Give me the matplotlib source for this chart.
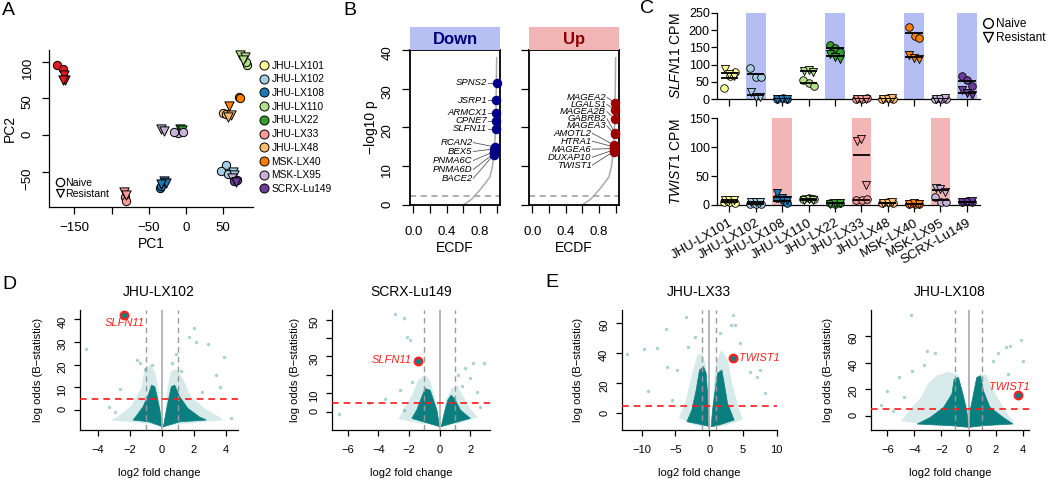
import numpy as np
import matplotlib
matplotlib.use('Agg')
import matplotlib.pyplot as plt
from matplotlib.lines import Line2D

plt.rcParams['font.family'] = ['Liberation Sans', 'DejaVu Sans']
plt.rcParams['mathtext.fontset'] = 'custom'
plt.rcParams['mathtext.it'] = 'Liberation Sans:italic'
plt.rcParams['mathtext.rm'] = 'Liberation Sans'

# ---------------- data ----------------
lines = ['JHU-LX101', 'JHU-LX102', 'JHU-LX108', 'JHU-LX110', 'JHU-LX22',
         'JHU-LX33', 'JHU-LX48', 'MSK-LX40', 'MSK-LX95', 'SCRX-Lu149']
line_colors = ['#FFFF99', '#A6CEE3', '#1F78B4', '#B2DF8A', '#33A02C',
               '#FB9A99', '#FDBF6F', '#FF7F00', '#CAB2D6', '#6A3D9A']

# panel A (PCA); last entry is the red cluster with no legend entry
pca_colors = line_colors + ['#E31A1C']
pc1_naive = [[], [54, 47, 56], [-35, -34], [82.4, 81], [-7], [-82, -80],
             [49.5, 54], [71, 72], [-11, -4.6, -16], [65, 68.6], [-172.6, -165.8]]
pc2_naive = [[], [-41, -49, -53.5], [-72, -70], [96, 100], [6], [-85, -90],
             [29.7, 29], [51.6, 50], [3, 4.6, 4], [-62, -61], [95.9, 90]]
pc1_resist = [[], [63, 64.5], [-30, -27, -33], [72, 78.7, 76.5], [-8, -5], [-83, -80],
              [60.8, 56], [57.6], [-33, -30, 62], [67.5], [-164.5, -162, -165.5]]
pc2_resist = [[], [-50, -55], [-63, -65, -66], [109.6, 107, 102], [8, 7], [-78, -82],
              [27.4, 24], [39.7], [8, 5, -58], [-64], [82, 75, 75]]

# panel B (ECDF of -log10 p)
ecdf_curve_x = [0.6, 0.7, 0.8, 0.87, 0.92, 0.95, 0.97, 0.98, 0.99, 0.995, 1.0]
ecdf_curve_y = [0, 1.5, 3.9, 5.8, 7.3, 10, 13.5, 17, 22, 30, 38]
down_genes = ['SPNS2', 'JSRP1', 'ARMCX1', 'CPNE7', 'SLFN11',
              'RCAN2', 'BEX5', 'PNMA6C', 'PNMA6D', 'BACE2']
down_ecdf = [0.998, 0.997, 0.996, 0.995, 0.994, 0.975, 0.972, 0.970, 0.968, 0.966]
down_logp = [31.5, 27, 23.8, 21.8, 19.7, 15, 14.5, 13.8, 13.3, 13]
up_genes = ['MAGEA2', 'LGALS1', 'MAGEA2B', 'GABRB2', 'MAGEA3',
            'AMOTL2', 'HTRA1', 'MAGEA6', 'DUXAP10', 'TWIST1']
up_ecdf = [0.995, 0.994, 0.993, 0.99, 0.99, 0.98, 0.978, 0.976, 0.975, 0.974]
up_logp = [26.3, 24.5, 22.2, 18.7, 18.2, 15.5, 15.0, 14.6, 14.2, 13.8]
sig_cut = 2.2

# panel C (CPM per line, naive / resistant replicates)
slfn11_naive = [[33, 68, 80], [89, 65, 63], [2, 3, 1], [55, 48, 38], [158, 148, 137],
                [2, 1, 3], [2, 3, 1], [209, 184, 178], [1, 2, 2], [67, 55, 38]]
slfn11_resist = [[88, 72, 66], [22, 8, 7], [1, 2, 2], [82, 84, 78], [132, 122, 117],
                 [1, 2, 1], [2, 1, 3], [128, 119, 116], [2, 1, 3], [28, 17, 13]]
twist1_naive = [[5, 6, 4], [1, 2, 1], [12, 8, 3], [11, 12, 10], [3, 2, 4],
                [9, 8, 10], [4, 5, 3], [2, 1, 2], [13, 6, 5], [6, 7, 5]]
twist1_resist = [[9, 8, 9], [5, 6, 5], [20, 12, 8], [8, 10, 9], [2, 3, 4],
                 [111, 114, 35], [4, 3, 5], [2, 3, 1], [30, 27, 22], [6, 5, 7]]
slfn11_marked = ['JHU-LX102', 'JHU-LX22', 'MSK-LX40', 'SCRX-Lu149']
twist1_marked = ['JHU-LX108', 'JHU-LX33', 'MSK-LX95']

# panels D/E (volcano): dense core outlines, lighter fringe outlines, sparse genes
lx102_core_l = [(0.02, -7.4), (-0.14, 0), (-0.31, 5.9), (-0.46, 10.3), (-0.66, 11), (-0.87, 6.6),
                (-1.19, 1.5), (-1.61, -2.6), (-1.82, -4.4), (-0.81, -5.2)]
lx102_core_r = [(0.08, -7.4), (0.27, 0), (0.44, 5.9), (0.58, 10.3), (0.79, 11), (1.1, 5.9),
                (1.62, 0.7), (2.35, -3.1), (2.77, -4.4), (1.1, -5.2)]
lx102_fringe_l = [(0, -7), (-0.25, 10), (-0.45, 17), (-0.75, 20), (-1.1, 18), (-1.3, 10),
                  (-1.9, 2), (-2.8, -3), (-3.2, -4.5), (-1, -6)]
lx102_fringe_r = [(0.1, -7), (0.35, 10), (0.55, 17), (0.9, 18), (1.3, 14), (1.8, 6),
                  (2.8, 0), (3.6, -3), (3.8, -4.5), (1.5, -6)]
lx102_sparse_x = [-4.77, -2.64, -2.95, -1.6, -1.4, -0.66, 0.59, 0.9, 1.67, 1.98,
                  2.15, 2.88, 3.86, 3.4, 3.6, 4.34, -3.3, 2.5, 1.2, -1.1]
lx102_sparse_y = [26.8, 9.3, -0.7, 22, 20.6, 19.9, 20.6, 24.7, 32.3, 36,
                  30.1, 29.1, 23.5, 15.4, 10.3, -3.7, 1.5, 8, 17, 18]
lx102_gene = ('SLFN11', -2.4, 42)

lu149_core_l = [(0.0, -8.1), (-0.17, 0.9), (-0.39, 6.3), (-0.61, 11.7), (-0.94, 12.6),
                (-1.16, 8.1), (-1.49, 0.9), (-1.81, -3.6), (-0.83, -6.0)]
lu149_core_r = [(0.11, -8.1), (0.33, 0), (0.54, 6.3), (0.76, 9), (0.98, 7.2),
                (1.37, 0.9), (2.02, -3.6), (0.96, -6.0)]
lu149_fringe_l = [(0, -7), (-0.35, 9), (-0.6, 17), (-0.95, 20), (-1.4, 17), (-1.8, 9),
                  (-2.4, 0), (-2.7, -4), (-1.2, -6.5)]
lu149_fringe_r = [(0.15, -7), (0.45, 7), (0.8, 13), (1.2, 14), (1.5, 9), (2.0, 2),
                  (2.5, -3), (1.2, -6.5)]
lu149_sparse_x = [-2.9, -2.35, -2.13, -1.9, -3.55, -6.6, 2.88, 2.18, 1.68, 1.24,
                  2.0, 2.44, 2.66, -1.8, -2.57, -2.35, -4.6, 1.5]
lu149_sparse_y = [52.9, 51.1, 40.6, 39.1, 6.7, -1.2, 26.5, 26.2, 23.5, 19.9,
                  18.1, 10.8, 2.7, 16.2, 11.7, 0.9, 4.5, 14]
lu149_gene = ('SLFN11', -1.4, 27.5)

lx33_core_l = [(0.1, -8.8), (-0.1, -2.2), (-0.25, 13.2), (-0.44, 26.5), (-0.84, 30.9),
               (-1.43, 28.7), (-1.93, 15.4), (-2.57, 2.2), (-3.3, -5.5), (-0.84, -7.7)]
lx33_core_r = [(0.3, -8.8), (0.49, 2.2), (0.89, 15.4), (1.23, 26.5), (1.88, 28.7),
               (2.22, 19.9), (2.72, 6.6), (3.7, -4.4), (1.48, -7.7)]
lx33_fringe_l = [(0, -9), (-0.2, 15), (-0.5, 32), (-1.0, 40), (-1.8, 38), (-2.6, 25),
                 (-3.5, 8), (-4.5, -3), (-2, -8)]
lx33_fringe_r = [(0.4, -9), (0.6, 15), (1.0, 33), (1.8, 42), (2.7, 36), (3.4, 20),
                 (4.3, 5), (5, -4), (2.5, -8)]
lx33_sparse_x = [-12.2, -9.6, -7.75, -6.4, -3.45, 3.6, 3.75, 3.3, -9, -6.3,
                 -4.8, 6.1, 7.1, 7.6, 4.6, 1.6, -2.1, -3.1, -5.5, 8.3]
lx33_sparse_y = [39, 42.3, 43, 55.6, 64, 65, 58.4, 58.4, 15, 30.9,
                 28.7, 27.5, 24.2, 28.7, 46.3, 53, 50.7, 44.1, 8.8, 13.2]
lx33_gene = ('TWIST1', 3.5, 36.5)

lx108_core_l = [(0, -8.8), (-0.12, 3.75), (-0.42, 16.3), (-0.74, 28.8), (-1.06, 27.5),
                (-1.23, 16.3), (-1.84, 6.3), (-2.82, -1.25), (-3.8, -6.3), (-1.34, -7.5)]
lx108_core_r = [(0.05, -8.8), (0.12, 3.75), (0.37, 16.3), (0.61, 28.8), (0.9, 30),
                (1.1, 18.8), (1.59, 6.3), (2.56, -1.25), (3.3, -6.3), (1.1, -7.5)]
lx108_fringe_l = [(0, -8), (-0.3, 15), (-0.8, 31), (-1.5, 33), (-2.4, 30), (-3.0, 24),
                  (-3.5, 14), (-4.4, 4), (-5.0, -4), (-2.5, -7.5)]
lx108_fringe_r = [(0.1, -8), (0.4, 18), (0.8, 31), (1.3, 31), (1.7, 22), (2.4, 9),
                  (3.0, 0), (3.4, -5), (1.5, -7.5)]
lx108_sparse_x = [-4.23, 3.86, 3.05, 2.8, 2.2, 1.8, -3.1, -2.45, -3.3, -4.17,
                  -5.14, -6, -5.6, 4.0, 2.9, -6.5, -4.8]
lx108_sparse_y = [75.8, 56.8, 52.5, 51.7, 47.5, 41.3, 48.8, 46.9, 38, 34,
                  28.8, 18.8, 3.75, 41, 31.3, 8, 14]
lx108_gene = ('TWIST1', 3.7, 15.5)

# ---------------- layout helpers ----------------
W, H = 1050, 480
fig = plt.figure(figsize=(W / 100, H / 100), dpi=100)
TEAL = '#0b7f7f'
MINUS = '\u2212'


def px_axes(x0, y0, x1, y1):
    return fig.add_axes([x0 / W, 1 - y1 / H, (x1 - x0) / W, (y1 - y0) / H])


def r_style(ax, fs=9, box=False):
    for s in ['top', 'right']:
        ax.spines[s].set_visible(box)
    for s in ax.spines.values():
        s.set_linewidth(0.9)
    ax.tick_params(direction='out', length=5, width=0.9, labelsize=fs)


def fmt(v):
    s = ('%g' % v)
    return s.replace('-', MINUS)


# ---------------- panel A ----------------
axA = px_axes(49, 50, 253, 207)
r_style(axA, fs=9.5)
for col, nx, ny, rx, ry in zip(pca_colors, pc1_naive, pc2_naive, pc1_resist, pc2_resist):
    axA.scatter(nx, ny, s=36, marker='o', color=col, edgecolors='black', linewidths=0.7, zorder=3)
    axA.scatter(rx, ry, s=44, marker='v', color=col, edgecolors='black', linewidths=0.7, zorder=3)
axA.set_xlim(-184, 90)
axA.set_ylim(-98, 116)
axA.set_xticks([-150, -100, -50, 0, 50])
axA.set_xticklabels([fmt(-150), '', fmt(-50), '0', '50'])
axA.set_yticks([-50, 0, 50, 100])
axA.set_yticklabels([fmt(-50), '0', '50', '100'])
axA.tick_params(axis='y', labelrotation=90, pad=6)
axA.tick_params(axis='x', pad=6)
axA.set_xlabel('PC1', fontsize=10, va='center')
axA.xaxis.set_label_coords(0.5, -0.235)
axA.set_ylabel('PC2', fontsize=10, va='center')
axA.yaxis.set_label_coords(-0.19, 0.5)

line_handles = [Line2D([], [], ls='', marker='o', markersize=6.5, markerfacecolor=c,
                       markeredgecolor='black', markeredgewidth=0.7) for c in line_colors]
legA = axA.legend(line_handles, lines, loc='upper left', bbox_to_anchor=(1.0, 0.965),
                  frameon=False, fontsize=7.4, handletextpad=0.1, labelspacing=0.36,
                  borderpad=0, handlelength=1.2)
axA.add_artist(legA)
state_handles = [Line2D([], [], ls='', marker='o', markersize=6, markerfacecolor='white',
                        markeredgecolor='black', markeredgewidth=0.9),
                 Line2D([], [], ls='', marker='v', markersize=6, markerfacecolor='white',
                        markeredgecolor='black', markeredgewidth=0.9)]
axA.legend(state_handles, ['Naive', 'Resistant'], loc='lower left', bbox_to_anchor=(0.0, 0.02),
           frameon=False, fontsize=7.6, handletextpad=0.05, labelspacing=0.1,
           borderpad=0, handlelength=1.0)


# ---------------- panel B ----------------
def ecdf_panel(x0, x1, title, strip_col, title_col, genes, ex, ey, pt_col, top_lab_y, low_lab_y,
               show_y):
    ax = px_axes(x0, 50, x1, 205)
    st = px_axes(x0, 27, x1, 50)
    st.set_facecolor(strip_col)
    st.set_xticks([])
    st.set_yticks([])
    for sp in st.spines.values():
        sp.set_visible(False)
    st.text(0.5, 0.45, title, ha='center', va='center', fontsize=12, fontweight='bold',
            color=title_col, transform=st.transAxes)
    r_style(ax, fs=9.5, box=True)
    for sp in ax.spines.values():
        sp.set_linewidth(1.3)
    ax.plot(ecdf_curve_x, ecdf_curve_y, color='#aaaaaa', lw=1.1, zorder=2)
    ax.axhline(sig_cut, ls=(0, (4, 3)), color='#999999', lw=1.1)
    lab_y = list(top_lab_y) + list(low_lab_y)
    for i, (g, x, y, ly) in enumerate(zip(genes, ex, ey, lab_y)):
        lx = 0.885 if i < 5 else 0.71
        ax.plot([lx + 0.01, x], [ly, y], color='#555555', lw=0.6, zorder=3)
        ax.text(lx, ly, g, ha='right', va='center', fontsize=6.8, style='italic', zorder=4)
    ax.scatter(ex, ey, s=34, color=pt_col, zorder=5, clip_on=False)
    ax.set_xlim(-0.04, 1.04)
    ax.set_ylim(0, 40)
    ax.set_xticks([0, 0.2, 0.4, 0.6, 0.8, 1.0])
    ax.set_xticklabels(['0.0', '', '0.4', '', '0.8', ''])
    ax.set_yticks([0, 10, 20, 30, 40])
    ax.tick_params(axis='x', pad=9, length=6)
    ax.tick_params(axis='y', labelrotation=90, pad=6, length=6)
    if not show_y:
        ax.set_yticklabels([])
    else:
        ax.set_ylabel(MINUS + 'log10 p', fontsize=10, va='center')
        ax.yaxis.set_label_coords(-0.43, 0.5)
    ax.set_xlabel('ECDF', fontsize=10, va='center')
    ax.xaxis.set_label_coords(0.5, -0.28)
    return ax


ecdf_panel(410, 500, 'Down', '#B7C0F2', '#00007A', down_genes, down_ecdf, down_logp, '#00008B',
           down_logp[:5], [16.1 - 2.3 * i for i in range(5)], True)
ecdf_panel(529, 619, 'Up', '#F2B5B5', '#8B0000', up_genes, up_ecdf, up_logp, '#9B0000',
           [27.8 - 1.85 * i for i in range(5)], [18.5 - 2.05 * i for i in range(5)], False)


# ---------------- panel C ----------------
NAIVE_DX = [-0.2, 0.02, 0.2]
RESIST_DX = [-0.18, 0.0, 0.18]


def cpm_panel(y0, y1, naive, resist, marked, band_col, ymax, yticks, gene, show_x):
    ax = px_axes(716.7, y0, 980, y1)
    r_style(ax, fs=9)
    for k, name in enumerate(lines):
        pos = k + 1
        if name in marked:
            ax.axvspan(pos - 0.37, pos + 0.37, color=band_col, lw=0, zorder=0)
        col = line_colors[k]
        nx = [pos + d for d in NAIVE_DX[:len(naive[k])]]
        rx = [pos + d for d in RESIST_DX[:len(resist[k])]]
        ax.scatter(nx, naive[k], s=30, marker='o', color=col, edgecolors='black',
                   linewidths=0.6, zorder=3, clip_on=False)
        ax.scatter(rx, resist[k], s=34, marker='v', color=col, edgecolors='black',
                   linewidths=0.6, zorder=3, clip_on=False)
        ax.hlines([np.mean(naive[k]), np.mean(resist[k])], pos - 0.33, pos + 0.33,
                  color='black', lw=1.3, zorder=4)
    ax.set_xlim(0.52, 10.5)
    ax.set_ylim(0, ymax)
    ax.set_yticks(yticks)
    ax.tick_params(axis='y', pad=1, length=4)
    ax.set_xticks(range(1, 11))
    ax.tick_params(axis='x', length=5)
    if show_x:
        ax.set_xticklabels(lines, rotation=30, ha='right', rotation_mode='anchor', fontsize=9.5)
    else:
        ax.set_xticklabels([])
    ax.set_ylabel(r'$\mathit{%s}$ CPM' % gene, fontsize=10, va='center')
    ax.yaxis.set_label_coords(-0.155, 0.5)
    return ax


cpm_panel(12.7, 99.3, slfn11_naive, slfn11_resist, slfn11_marked, '#B4BEF2', 250,
          [0, 50, 100, 150, 200, 250], 'SLFN11', False)
cpm_panel(118.3, 205, twist1_naive, twist1_resist, twist1_marked, '#F2B6B6', 150,
          [0, 50, 100, 150], 'TWIST1', True)
c_handles = [Line2D([], [], ls='', marker='o', markersize=7, markerfacecolor='white',
                    markeredgecolor='black', markeredgewidth=1.0),
             Line2D([], [], ls='', marker='v', markersize=7, markerfacecolor='white',
                    markeredgecolor='black', markeredgewidth=1.0)]
fig.legend(c_handles, ['Naive', 'Resistant'], loc='upper left', bbox_to_anchor=(0.93, 0.975),
           frameon=False, fontsize=8.6, handletextpad=0.1, labelspacing=0.15, borderpad=0,
           handlelength=1.0)


# ---------------- panels D / E ----------------
def volcano(box, title, core_l, core_r, fringe_l, fringe_r, sx, sy, gene, xlim, ylim,
            xticks, yticks, yticklabels, lab_xy, lab_ha, ylab_x):
    ax = px_axes(*box)
    r_style(ax, fs=8)
    for poly in (fringe_l, fringe_r):
        ax.fill([p[0] for p in poly], [p[1] for p in poly], color=TEAL, alpha=0.16, lw=0, zorder=1)
    for poly in (core_l, core_r):
        ax.fill([p[0] for p in poly], [p[1] for p in poly], color=TEAL, alpha=1.0, lw=0.5,
                ec=TEAL, zorder=2)
    ax.scatter(sx, sy, s=6, color=TEAL, alpha=0.35, lw=0, zorder=2)
    ax.axvline(0, color='#aaaaaa', lw=1.2, zorder=3)
    for v in (-1, 1):
        ax.axvline(v, color='#999999', lw=1.0, ls=(0, (4, 3)), zorder=3)
    ax.axhline(5, color='#FF1A1A', lw=1.2, ls=(0, (4, 3)), zorder=4)
    name, gx, gy = gene
    ax.scatter([gx], [gy], s=30, color=TEAL, edgecolors='#FF2020', linewidths=1.6, zorder=5)
    ax.text(lab_xy[0], lab_xy[1], name, ha=lab_ha, va='center', color='#FF2020',
            fontsize=8, style='italic', zorder=5)
    ax.set_xlim(*xlim)
    ax.set_ylim(*ylim)
    ax.set_xticks(xticks)
    ax.set_xticklabels([fmt(v) for v in xticks])
    ax.set_yticks(yticks)
    ax.set_yticklabels(yticklabels)
    ax.tick_params(axis='x', pad=7, length=4)
    ax.tick_params(axis='y', labelrotation=90, pad=5, length=4)
    ax.set_title(title, fontsize=10, pad=10)
    ax.set_xlabel('log2 fold change', fontsize=8, va='center')
    ax.xaxis.set_label_coords(0.5, -0.36)
    ax.set_ylabel('log odds (B' + MINUS + 'statistic)', fontsize=8, va='center')
    ax.yaxis.set_label_coords(ylab_x, 0.5)
    return ax


volcano((80, 310, 238.3, 430), 'JHU-LX102', lx102_core_l, lx102_core_r, lx102_fringe_l,
        lx102_fringe_r, lx102_sparse_x, lx102_sparse_y, lx102_gene, (-5.14, 4.77), (-8.8, 44.1),
        [-4, -2, 0, 2, 4], [0, 10, 20, 30, 40], ['0', '10', '20', '30', '40'],
        (-2.35, 38.2), 'center', -0.265)
volcano((331.7, 310, 490, 430), 'SCRX-Lu149', lu149_core_l, lu149_core_r, lu149_fringe_l,
        lu149_fringe_r, lu149_sparse_x, lu149_sparse_y, lu149_gene, (-7.05, 3.3), (-9.9, 55.2),
        [-6, -4, -2, 0, 2], [0, 10, 20, 30, 40, 50], ['0', '10', '', '30', '', '50'],
        (-1.8, 28), 'right', -0.232)
volcano((621.7, 310, 776.7, 430), 'JHU-LX33', lx33_core_l, lx33_core_r, lx33_fringe_l,
        lx33_fringe_r, lx33_sparse_x, lx33_sparse_y, lx33_gene, (-12.96, 10.0), (-11, 68.4),
        [-10, -5, 0, 5, 10], [0, 20, 40, 60], ['0', '20', '40', '60'],
        (4.4, 36.5), 'left', -0.28)
volcano((871, 310, 1029, 430), 'JHU-LX108', lx108_core_l, lx108_core_r, lx108_fringe_l,
        lx108_fringe_r, lx108_sparse_x, lx108_sparse_y, lx108_gene, (-7.22, 4.48), (-10.8, 79.6),
        [-6, -4, -2, 0, 2, 4], [0, 20, 40, 60], ['0', '20', '40', '60'],
        (3.05, 21.7), 'center', -0.27)

# panel letters
for letter, x, y in [('A', 2, 2), ('B', 343, 2), ('C', 640, 0), ('D', 2, 276), ('E', 545, 274)]:
    fig.text(x / W, 1 - y / H, letter, fontsize=14, va='top', ha='left')

fig.savefig('out.png', dpi=100)
